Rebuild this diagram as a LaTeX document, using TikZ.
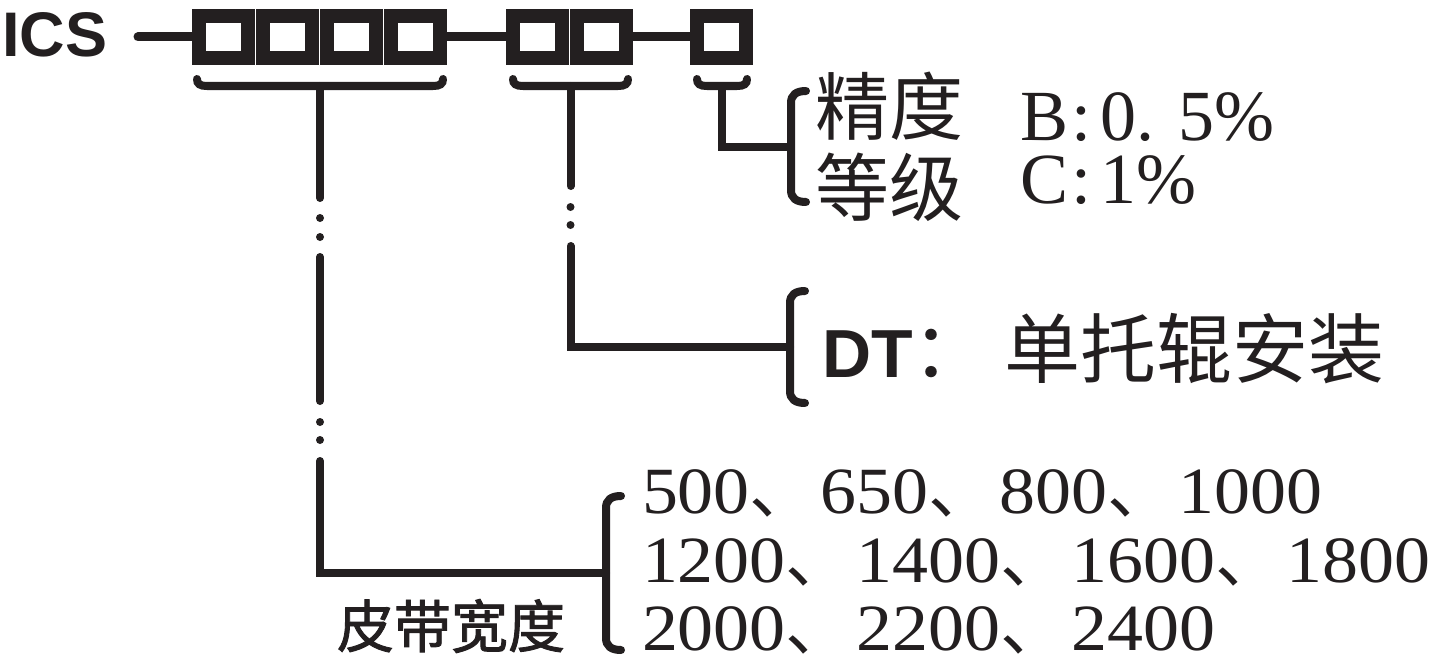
\documentclass[tikz,border=0pt]{standalone}
\usepackage{fontspec}
\setmainfont{Liberation Serif}
\newfontfamily\numfont[FakeStretch=1.09]{Liberation Serif}
\newfontfamily\hsans{Liberation Sans}
\newfontfamily\cjk{Noto Sans CJK SC}
\newfontfamily\cjkb[FakeBold=1.5]{Noto Sans CJK SC}
\definecolor{ink}{RGB}{35,31,32}
\newcommand\dn{\smash{\cjk 、}\hspace{5pt}}
% horizontal brace under a group of cells: x0, x1, name of its middle
\newcommand\hbr[3]{%
  \draw[bracestroke] (#1+4,79) .. controls (#1+4,84) and (#1+7,86) .. (#1+14,86)
    -- (#2-14,86) .. controls (#2-7,86) and (#2-4,84) .. (#2-4,79);
  \coordinate (#3) at ({(#1+#2)/2},86);}
% vertical brace: x, y top, y bottom, name of its middle
\newcommand\vbr[4]{%
  \draw[bracestroke] (#1+15,#2) .. controls (#1+5,#2) and (#1,#2+4) .. (#1,#2+12)
    -- (#1,#3-12) .. controls (#1,#3-4) and (#1+5,#3) .. (#1+15,#3);
  \coordinate (#4) at (#1,{(#2+#3)/2});}
\begin{document}
\begin{tikzpicture}[x=1pt,y=-1pt,
  cell/.style={draw=ink,line width=14pt,fill=white,minimum width=49pt,
    minimum height=42pt,inner sep=0pt},
  dashline/.style={draw=ink,line width=9pt},
  bracestroke/.style={draw=ink,line width=8pt,line cap=round},
  conn/.style={draw=ink,line width=8pt,line cap=round},
  txt/.style={inner sep=0pt,outer sep=0pt,text=ink}]
\fill[white] (0,0) rectangle (1438,661);
\useasboundingbox (0,0) rectangle (1438,661);

% title and cells
\node[txt,anchor=base west,font={\hsans\bfseries\fontsize{63}{63}\selectfont}] (ics) at (2,57) {ICS};
\node[cell] (g1a) at (223.5,37) {};
\node[cell] (g1b) at (287.5,37) {};
\node[cell] (g1c) at (351.5,37) {};
\node[cell] (g1d) at (415.5,37) {};
\node[cell] (g2a) at (537.5,37) {};
\node[cell] (g2b) at (601.5,37) {};
\node[cell] (g3a) at (721.5,37) {};
\coordinate (d0) at (138,37);
\draw[dashline,line cap=round] (d0) -- (g1a.west);
\draw[dashline] (g1d.east) -- (g2a.west);
\draw[dashline] (g2b.east) -- (g3a.west);

% braces under groups
\hbr{193}{447}{b1}
\hbr{509}{632}{b2}
\hbr{693}{751}{b3}

% braces before the choices
\vbr{791}{91}{202}{v1}
\vbr{790}{291}{403}{v2}
\vbr{606}{496}{650}{v3}

% connectors
\draw[conn,dash pattern=on 112pt off 20pt on 0pt off 19pt on 0pt off 20pt on 144pt off 21pt on 0pt off 18pt on 0pt off 21pt on 1000pt] (b1) |- (v3);
\draw[conn,dash pattern=on 100pt off 21pt on 0pt off 18pt on 0pt off 21pt on 1000pt] (b2) |- (v2);
\draw[conn,line cap=butt] (b3) |- (v1);

% accuracy class
\node[txt,anchor=west,font={\cjk\fontsize{74}{74}\selectfont}] (jd) at (815,106.5) {精度};
\node[txt,anchor=west,font={\cjk\fontsize{74}{74}\selectfont}] (dj) at (815,187) {等级};
\node[txt,anchor=base west,font={\fontsize{72}{60}\selectfont}] (cb) at (1020,140) {B\hspace{4pt}:\hspace{8pt}0.\hspace{24pt}5\%};
\node[txt,anchor=base west,font={\fontsize{72}{60}\selectfont}] (cc) at (1020,203) {C\hspace{4pt}:\hspace{8pt}1\%};

% installation
\node[txt,anchor=base west] (dt) at (822,377)
  {{\hsans\bfseries\fontsize{68}{68}\selectfont DT}{\cjk\fontsize{76}{76}\selectfont ：\hspace{16pt}单托辊安装}};

% belt width
\node[txt,anchor=west,font={\cjkb\fontsize{57}{57}\selectfont}] (pd) at (337,626) {皮带宽度};
\node[txt,anchor=base west,font={\numfont\fontsize{66}{66}\selectfont}] (r1) at (642,513) {500\dn 650\dn 800\dn 1000};
\node[txt,anchor=base west,font={\numfont\fontsize{66}{66}\selectfont}] (r2) at (642,582) {1200\dn 1400\dn 1600\dn 1800};
\node[txt,anchor=base west,font={\numfont\fontsize{66}{66}\selectfont}] (r3) at (642,650) {2000\dn 2200\dn 2400};
\end{tikzpicture}
\end{document}
